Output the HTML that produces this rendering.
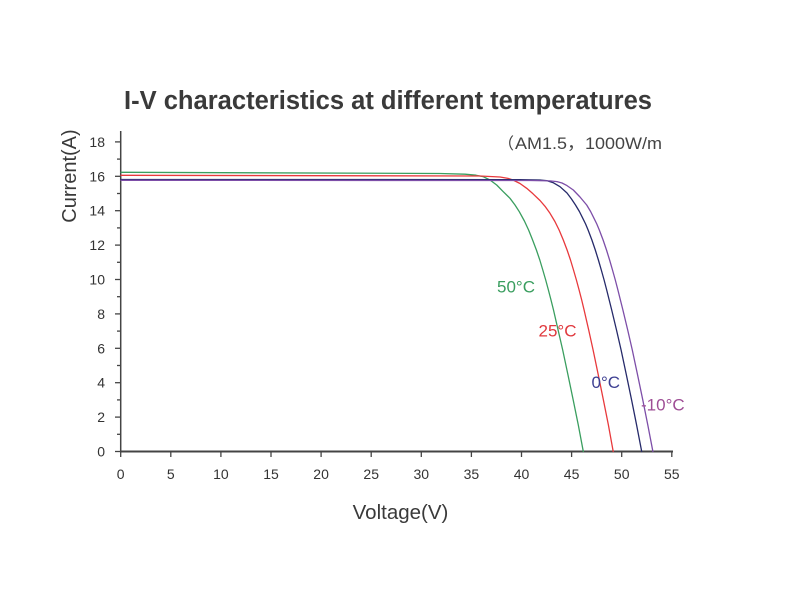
<!DOCTYPE html>
<html>
<head>
<meta charset="utf-8">
<style>
html,body{margin:0;padding:0;background:#fff;}
body{width:800px;height:600px;overflow:hidden;}
svg{display:block;}
text{font-family:"Liberation Sans","Noto Sans CJK SC",sans-serif;}
</style>
</head>
<body>
<svg width="800" height="600" viewBox="0 0 800 600" xmlns="http://www.w3.org/2000/svg">
<rect width="800" height="600" fill="#fff"/>
<!-- Title -->
<text x="124" y="109" font-size="25.5" font-weight="bold" fill="#3a3a3a" textLength="528" lengthAdjust="spacingAndGlyphs">I-V characteristics at different temperatures</text>
<!-- annotation -->
<text x="498" y="149" font-size="16" fill="#444" font-family="'Noto Sans CJK SC',sans-serif">（</text>
<text x="515" y="149" font-size="16.5" fill="#444" textLength="147" lengthAdjust="spacingAndGlyphs">AM1.5，1000W/m</text>

<!-- axes -->
<g stroke="#444" fill="none">
<line x1="120.7" y1="131" x2="120.7" y2="452.5" stroke-width="1.5"/>
<line x1="120" y1="451.5" x2="673" y2="451.5" stroke-width="2"/>
</g>
<!-- y major ticks -->
<g stroke="#444" stroke-width="1.3">
<line x1="115" y1="451.5" x2="121" y2="451.5"/>
<line x1="115" y1="417.1" x2="121" y2="417.1"/>
<line x1="115" y1="382.7" x2="121" y2="382.7"/>
<line x1="115" y1="348.3" x2="121" y2="348.3"/>
<line x1="115" y1="313.9" x2="121" y2="313.9"/>
<line x1="115" y1="279.5" x2="121" y2="279.5"/>
<line x1="115" y1="245.1" x2="121" y2="245.1"/>
<line x1="115" y1="210.7" x2="121" y2="210.7"/>
<line x1="115" y1="176.3" x2="121" y2="176.3"/>
<line x1="115" y1="141.9" x2="121" y2="141.9"/>
<!-- minor -->
<line x1="117" y1="434.3" x2="121" y2="434.3"/>
<line x1="117" y1="399.9" x2="121" y2="399.9"/>
<line x1="117" y1="365.5" x2="121" y2="365.5"/>
<line x1="117" y1="331.1" x2="121" y2="331.1"/>
<line x1="117" y1="296.7" x2="121" y2="296.7"/>
<line x1="117" y1="262.3" x2="121" y2="262.3"/>
<line x1="117" y1="227.9" x2="121" y2="227.9"/>
<line x1="117" y1="193.5" x2="121" y2="193.5"/>
<line x1="117" y1="159.1" x2="121" y2="159.1"/>
</g>
<!-- x ticks -->
<g stroke="#444" stroke-width="1.3">
<line x1="120.7" y1="451" x2="120.7" y2="457"/>
<line x1="170.8" y1="451" x2="170.8" y2="457"/>
<line x1="220.9" y1="451" x2="220.9" y2="457"/>
<line x1="271" y1="451" x2="271" y2="457"/>
<line x1="321.1" y1="451" x2="321.1" y2="457"/>
<line x1="371.2" y1="451" x2="371.2" y2="457"/>
<line x1="421.3" y1="451" x2="421.3" y2="457"/>
<line x1="471.4" y1="451" x2="471.4" y2="457"/>
<line x1="521.5" y1="451" x2="521.5" y2="457"/>
<line x1="571.6" y1="451" x2="571.6" y2="457"/>
<line x1="621.7" y1="451" x2="621.7" y2="457"/>
<line x1="671.8" y1="451" x2="671.8" y2="457"/>
</g>
<!-- y labels -->
<g font-size="14" fill="#333" text-anchor="end">
<text x="105" y="456.5">0</text>
<text x="105" y="422.1">2</text>
<text x="105" y="387.7">4</text>
<text x="105" y="353.3">6</text>
<text x="105" y="318.9">8</text>
<text x="105" y="284.5">10</text>
<text x="105" y="250.1">12</text>
<text x="105" y="215.7">14</text>
<text x="105" y="181.3">16</text>
<text x="105" y="146.9">18</text>
</g>
<!-- x labels -->
<g font-size="14" fill="#333" text-anchor="middle">
<text x="120.7" y="479">0</text>
<text x="170.8" y="479">5</text>
<text x="220.9" y="479">10</text>
<text x="271" y="479">15</text>
<text x="321.1" y="479">20</text>
<text x="371.2" y="479">25</text>
<text x="421.3" y="479">30</text>
<text x="471.4" y="479">35</text>
<text x="521.5" y="479">40</text>
<text x="571.6" y="479">45</text>
<text x="621.7" y="479">50</text>
<text x="671.8" y="479">55</text>
</g>
<!-- axis titles -->
<text x="400.5" y="519" font-size="20.5" fill="#3a3a3a" text-anchor="middle">Voltage(V)</text>
<text x="76" y="176" font-size="20" fill="#3a3a3a" text-anchor="middle" transform="rotate(-90 76 176)">Current(A)</text>

<!-- curves -->
<g fill="none" stroke-width="1.3" stroke-linejoin="round" stroke-linecap="round">
<polyline stroke="#3a9e5f" points="121,172.3 440,173.5 465,174.2 476,175.2 483,176.6 490,180 496.7,185 503,191.4 510,198.3 515,205 519.3,211.7 524.4,221 528.6,230 532.6,240 536.4,250 539.8,260 542.8,270 545.7,280 548.4,290 551,300 553.5,310 558.1,330 562.7,350 568,375 573.2,400 578.3,425 583.3,451.5"/>
<polyline stroke="#e8393c" points="121,175.3 480,176 500,177 508,178.4 513,180 520,183.5 526.7,188.3 533,193.8 540,200.5 545,206.3 550,213.3 554.9,221.5 559.1,230 563.3,240 567.1,250 570.5,260 573.5,270 576.4,280 579.1,290 581.7,300 584.1,310 588.7,330 593.1,350 598.3,375 603.4,400 608.4,425 613.2,451.5"/>
<polyline stroke="#262a6a" points="121,179.5 520,179.6 540,180 546.7,180.6 553,182.6 560,186.7 567,193 571.5,199 575.5,205 579.4,211.5 582.8,218.3 585.6,224 588.1,230 591.9,240 595.3,250 598.4,260 601.3,270 604.1,280 606.7,290 609.2,300 611.7,310 616.5,330 621.1,350 626.4,375 631.6,400 636.6,425 641.7,451.5"/>
<polyline stroke="#7d4ea8" points="121,180.3 530,180.5 550,180.9 557,181.6 562,183 567,185.6 573.3,190 580,197 586.7,205 590.6,211.5 594,218.3 596.8,224 599.3,230 603.1,240 606.5,250 609.6,260 612.5,270 615.3,280 617.9,290 620.4,300 622.9,310 627.7,330 632.3,350 637.6,375 642.8,400 647.8,425 652.9,451.5"/>
</g>

<!-- curve labels -->
<g font-size="17">
<text x="497" y="292.5" fill="#3a9e5f">50°C</text>
<text x="538.5" y="336.5" fill="#e0393e">25°C</text>
<text x="591.5" y="388" fill="#3d3f92">0°C</text>
<text x="641" y="410.5" fill="#9e4d95">-10°C</text>
</g>
</svg>
</body>
</html>
